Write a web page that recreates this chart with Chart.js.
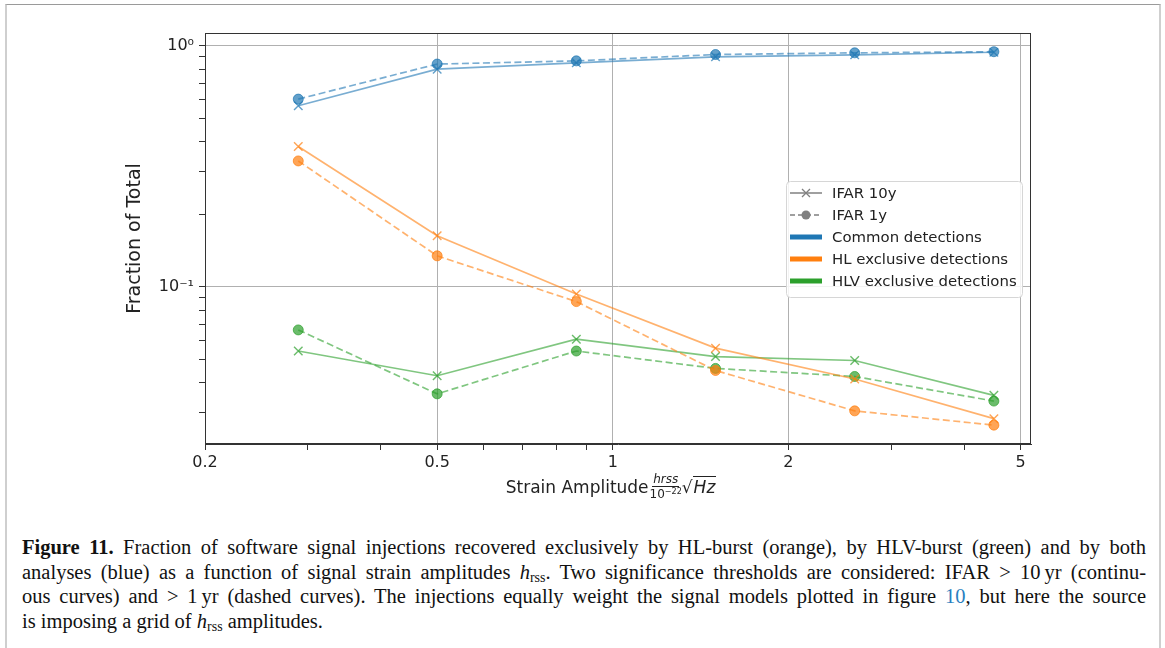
<!DOCTYPE html>
<html>
<head>
<meta charset="utf-8">
<script src="https://cdn.jsdelivr.net/npm/chart.js@4.4.0/dist/chart.umd.min.js"></script>
<style>
html, body { margin: 0; padding: 0; background: #fff; }
body { width: 1165px; height: 648px; position: relative; overflow: hidden; }
.frame { position: absolute; left: 5px; top: 4px; width: 1152px; height: 700px;
  border-top: 1px solid #9a9a9a; border-left: 2px solid #cfcfcf; border-right: 2px solid #cfcfcf; }
#wrap { position: absolute; left: 0; top: 0; width: 1165px; height: 500px; }
#xtitle { position: absolute; left: 198px; width: 826px; top: 474px; text-align: center;
  font-family: "DejaVu Sans"; font-size: 17px; color: #222; white-space: nowrap; line-height: 20px; }
#xtitle .frac { display: inline-flex; flex-direction: column; align-items: center;
  vertical-align: middle; font-size: 12px; line-height: 12px; margin-left: 1px; position: relative; top: -1px; }
#xtitle .num { font-style: italic; border-bottom: 1px solid #222; padding: 0 1px 1px; }
#xtitle .den { padding-top: 1px; }
#xtitle .den sup { font-size: 8px; vertical-align: 4px; line-height: 0; }
#xtitle .rad { font-style: italic; border-top: 1px solid #222; padding: 0 1px; }
#caption { position: absolute; left: 22px; top: 535px; width: 1124px;
  font-family: "Liberation Serif"; font-size: 20.5px; line-height: 24.5px; color: #111; }
#caption .ln { white-space: nowrap; }
#caption sub { font-size: 14px; vertical-align: -3px; line-height: 0; }
#caption .ref { color: #2a7fc0; }
</style>
</head>
<body>
<div class="frame"></div>
<div id="wrap"><canvas id="grafico" width="1165" height="500"></canvas></div>
<div id="xtitle">Strain Amplitude<span class="frac"><span class="num">hrss</span><span class="den">10<sup>−22</sup></span></span>√<span class="rad">Hz</span></div>
<div id="caption">
<div class="ln just"><span><b>Figure 11.</b> Fraction of software signal injections recovered exclusively by HL-burst (orange), by HLV-burst (green) and by both</span></div>
<div class="ln just"><span>analyses (blue) as a function of signal strain amplitudes <i>h</i><sub>rss</sub>. Two significance thresholds are considered: IFAR &gt; 10&#8201;yr (continu-</span></div>
<div class="ln just"><span>ous curves) and &gt; 1&#8201;yr (dashed curves). The injections equally weight the signal models plotted in figure <span class="ref">10</span>, but here the source</span></div>
<div class="ln"><span>is imposing a grid of <i>h</i><sub>rss</sub> amplitudes.</span></div>
</div>
<script>
// dados
const amplitudes = [0.289, 0.5, 0.866, 1.5, 2.598, 4.5];
const commonIfar10 = [0.564, 0.80, 0.85, 0.90, 0.917, 0.94];
const commonIfar1  = [0.601, 0.84, 0.866, 0.92, 0.935, 0.945];
const hlIfar10  = [0.382, 0.163, 0.0935, 0.0557, 0.0415, 0.0284];
const hlIfar1   = [0.333, 0.1345, 0.0869, 0.045, 0.0306, 0.0267];
const hlvIfar10 = [0.0542, 0.0428, 0.0607, 0.0514, 0.0495, 0.0355];
const hlvIfar1  = [0.0663, 0.036, 0.0542, 0.0459, 0.0425, 0.0336];

const xMajorTicks = [0.2, 0.5, 1, 2, 5];
const xMajorLabels = ['0.2', '0.5', '1', '2', '5'];
const xMinorTicks = [0.3, 0.4, 0.6, 0.7, 0.8, 0.9, 3, 4];
const yMajorTicks = [0.1, 1];
const yMajorLabels = ['10⁻¹', '10⁰'];
const yMinorTicks = [0.03, 0.04, 0.05, 0.06, 0.07, 0.08, 0.09, 0.2, 0.3, 0.4, 0.5, 0.6, 0.7, 0.8, 0.9];

const BLUE = [31, 119, 180], ORANGE = [255, 127, 14], GREEN = [44, 160, 44];
const rgba = (c, a) => `rgba(${c[0]},${c[1]},${c[2]},${a})`;

function serie(ys, col, dashed) {
  return {
    data: amplitudes.map((x, i) => ({ x, y: ys[i] })),
    borderColor: rgba(col, 0.6),
    borderWidth: 1.7,
    borderDash: dashed ? [7, 3.5] : [],
    pointStyle: dashed ? 'circle' : 'crossRot',
    pointRadius: dashed ? 5 : 6,
    pointBorderWidth: dashed ? 1 : 1.4,
    pointBackgroundColor: rgba(col, 0.7),
    pointBorderColor: rgba(col, 0.7),
    tension: 0,
    fill: false
  };
}

function buildTicks(major, minor) {
  return major.map(v => ({ value: v, major: true }))
    .concat(minor.map(v => ({ value: v, major: false })))
    .sort((a, b) => a.value - b.value);
}

// moldura dos eixos + legenda
const molduraLegenda = {
  id: 'molduraLegenda',
  afterDatasetsDraw(chart) {
    const { ctx, chartArea: a } = chart;
    ctx.save();
    ctx.strokeStyle = '#333';
    ctx.lineWidth = 1;
    ctx.strokeRect(Math.round(a.left) + 0.5, Math.round(a.top) + 0.5,
      Math.round(a.right - a.left) - 1, Math.round(a.bottom - a.top) - 1);

    const items = [
      { label: 'IFAR 10y', color: '#808080', width: 1.5, dash: [], marker: 'x' },
      { label: 'IFAR 1y', color: '#808080', width: 1.5, dash: [5, 3], marker: 'o' },
      { label: 'Common detections', color: rgba(BLUE, 1), width: 5, dash: [] },
      { label: 'HL exclusive detections', color: rgba(ORANGE, 1), width: 5, dash: [] },
      { label: 'HLV exclusive detections', color: rgba(GREEN, 1), width: 5, dash: [] }
    ];
    const bw = 236, bh = 116;
    const bx = a.right - 9 - bw, by = 181;
    ctx.beginPath();
    ctx.roundRect(bx + 0.5, by + 0.5, bw, bh, 4);
    ctx.fillStyle = 'rgba(255,255,255,0.85)';
    ctx.fill();
    ctx.strokeStyle = '#d6d6d6';
    ctx.stroke();

    ctx.font = '14.9px "DejaVu Sans"';
    ctx.textBaseline = 'middle';
    items.forEach((it, i) => {
      const cy = by + 12 + i * 22;
      const x0 = bx + 4, x1 = bx + 36;
      ctx.beginPath();
      ctx.setLineDash(it.dash);
      ctx.lineWidth = it.width;
      ctx.strokeStyle = it.color;
      ctx.moveTo(x0, cy);
      ctx.lineTo(x1, cy);
      ctx.stroke();
      ctx.setLineDash([]);
      const mx = (x0 + x1) / 2;
      if (it.marker === 'x') {
        ctx.lineWidth = 1.3;
        ctx.beginPath();
        ctx.moveTo(mx - 4, cy - 4); ctx.lineTo(mx + 4, cy + 4);
        ctx.moveTo(mx - 4, cy + 4); ctx.lineTo(mx + 4, cy - 4);
        ctx.stroke();
      } else if (it.marker === 'o') {
        ctx.beginPath();
        ctx.arc(mx, cy, 4.5, 0, Math.PI * 2);
        ctx.fillStyle = it.color;
        ctx.fill();
      }
      ctx.fillStyle = '#222';
      ctx.fillText(it.label, bx + 46, cy + 1);
    });
    ctx.restore();
  }
};

const ctx = document.getElementById('grafico');
new Chart(ctx, {
  type: 'line',
  data: {
    datasets: [
      serie(commonIfar10, BLUE, false),
      serie(commonIfar1, BLUE, true),
      serie(hlIfar10, ORANGE, false),
      serie(hlIfar1, ORANGE, true),
      serie(hlvIfar10, GREEN, false),
      serie(hlvIfar1, GREEN, true)
    ]
  },
  options: {
    responsive: false,
    animation: false,
    layout: { padding: { left: 124, top: 33, right: 134, bottom: 0 } },
    plugins: { legend: { display: false }, tooltip: { enabled: false } },
    scales: {
      x: {
        type: 'logarithmic',
        min: 0.2,
        max: 5.21,
        afterBuildTicks: ax => { ax.ticks = buildTicks(xMajorTicks, xMinorTicks); },
        afterFit: ax => { ax.height = 56; },
        border: { color: '#333' },
        grid: {
          color: c => (c.tick && c.tick.major) ? '#b0b0b0' : 'transparent',
          lineWidth: 1,
          tickLength: 6,
          tickColor: '#333'
        },
        ticks: {
          autoSkip: false,
          maxRotation: 0,
          padding: 3,
          color: '#222',
          font: { family: 'DejaVu Sans', size: 16 },
          callback: v => {
            const i = xMajorTicks.indexOf(v);
            return i >= 0 ? xMajorLabels[i] : '';
          }
        }
      },
      y: {
        type: 'logarithmic',
        min: 0.0223,
        max: 1.13,
        afterBuildTicks: ax => { ax.ticks = buildTicks(yMajorTicks, yMinorTicks); },
        afterFit: ax => { ax.width = 81; },
        border: { color: '#333' },
        title: {
          display: true,
          text: 'Fraction of Total',
          padding: 0,
          color: '#222',
          font: { family: 'DejaVu Sans', size: 19 }
        },
        grid: {
          color: c => (c.tick && c.tick.major) ? '#b0b0b0' : 'transparent',
          lineWidth: 1,
          tickLength: 6,
          tickColor: '#333'
        },
        ticks: {
          autoSkip: false,
          padding: 5,
          color: '#222',
          font: { family: 'DejaVu Sans', size: 16 },
          callback: v => {
            const i = yMajorTicks.indexOf(v);
            return i >= 0 ? yMajorLabels[i] : '';
          }
        }
      }
    }
  },
  plugins: [molduraLegenda]
});

// justifica as linhas da legenda da figura
const W = 1124;
document.querySelectorAll('#caption .ln.just').forEach(ln => {
  const span = ln.firstElementChild;
  const w = span.getBoundingClientRect().width;
  const n = (span.textContent.match(/ /g) || []).length;
  if (n > 0) ln.style.wordSpacing = ((W - w) / n) + 'px';
});
</script>
</body>
</html>
